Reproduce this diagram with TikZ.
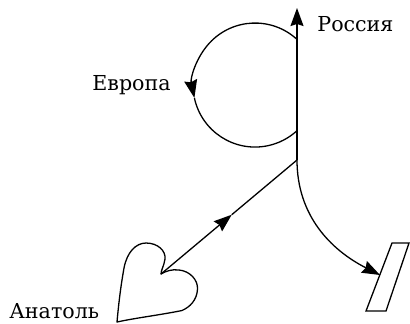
\documentclass[tikz,border=0pt]{standalone}
\usepackage{fontspec}
\setmainfont{DejaVu Serif}
\usepackage{tikz}
\usetikzlibrary{arrows.meta, calc}
\tikzstyle{country} = [inner sep=0pt, anchor=base west, font=\fontsize{10.3}{12}\selectfont]
\tikzstyle{route} = [line width=0.65pt]
\tikzstyle{arrow} = [route, ->, >={Stealth[length=9pt, width=6.5pt, inset=1pt]}]
\begin{document}
\begin{tikzpicture}[x=0.5pt, y=-0.5pt]
		\useasboundingbox (0,0) rectangle (410,323);
		\coordinate (Fork) at (297,160);
		\coordinate (RussiaTip) at (297,8);
		\coordinate (LoopStart) at (297,39.4);
		\coordinate (HeartNotch) at (161,274);
		\coordinate (HeartMid) at ($(HeartNotch)!0.52!(Fork)$);
		\coordinate (PlateHit) at (380,275);
		
		\node (Russia) [country] at (317,31.5) {Россия};
		\node (Europe) [country] at (92,90) {Европа};
		\node (Anatol) [country] at (9,318) {Анатоль};
		
		\draw [arrow] (Fork) -- (RussiaTip);
		\draw [arrow] (LoopStart) arc[start angle=-47.4, end angle=-192, radius=62] coordinate (LoopMid);
		\draw [route] (LoopMid) arc[start angle=-192, end angle=-312.6, radius=62];
		\draw [arrow] (HeartNotch) -- (HeartMid);
		\draw [route] (HeartMid) -- (Fork);
		\draw [arrow] (Fork) to[out=-90, in=153] (PlateHit);
		
		\draw [route, line join=round] (117,322) .. controls (119,300) and (121,285) .. (124,268)
			.. controls (127,252) and (136,243) .. (146,243)
			.. controls (158,243) and (166,251) .. (165,259)
			.. controls (164,266) and (161,270) .. (HeartNotch)
			.. controls (166,271) and (172,269) .. (179,270)
			.. controls (190,271) and (198,280) .. (197.5,289)
			.. controls (197,300) and (190,307) .. (182,310.5)
			.. controls (160,315) and (135,318) .. cycle;
		\draw [route] (392,243) -- (409,243) -- (386,311) -- (366,311) -- cycle;
\end{tikzpicture}
\end{document}
